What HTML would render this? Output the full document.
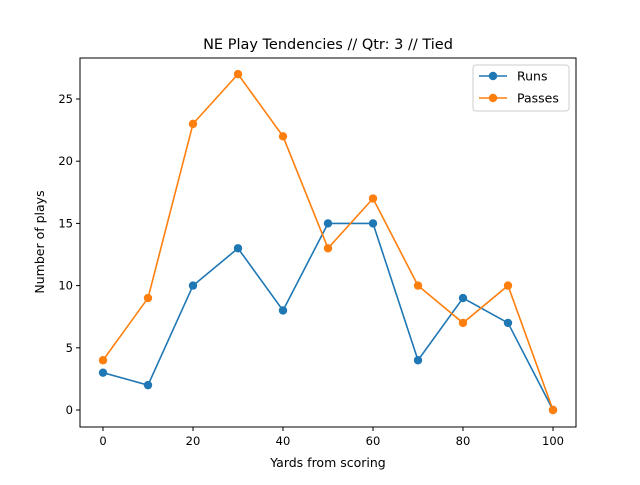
<!DOCTYPE html>
<html><head><meta charset="utf-8"><style>body{margin:0;background:#fff}svg{font-family:"DejaVu Sans","Liberation Sans",sans-serif}</style></head>
<body>
<svg id="c" width="640" height="480"></svg>
<script>
const categories=[0,10,20,30,40,50,60,70,80,90,100];
const runs=[3,2,10,13,8,15,15,4,9,7,0];
const passes=[4,9,23,27,22,13,17,10,7,10,0];
const xTicks=[0,20,40,60,80,100];
const yTicks=[0,5,10,15,20,25];
const NS="http://www.w3.org/2000/svg";
const svg=document.getElementById('c');
const L=80,R=576,T=58,B=427;
const xs=v=>103+v*4.5;
const ys=v=>410-v*12.44;
function mk(t,a,p){const e=document.createElementNS(NS,t);for(const k in a)e.setAttribute(k,a[k]);(p||svg).appendChild(e);return e;}
const title=mk('text',{x:328,y:49,'text-anchor':'middle','font-size':14.5});title.textContent='NE Play Tendencies // Qtr: 3 // Tied';


xTicks.forEach(v=>{const x=xs(v);mk('line',{x1:x,x2:x,y1:B,y2:B+4,stroke:'#000'});const t=mk('text',{x:x,y:B+18,'text-anchor':'middle','font-size':11.5});t.textContent=v;

});
yTicks.forEach(v=>{const y=ys(v);mk('line',{x1:L-4,x2:L,y1:y,y2:y,stroke:'#000'});const t=mk('text',{x:L-7,y:y+4,'text-anchor':'end','font-size':11.5});t.textContent=v;

});
const xl=mk('text',{x:328,y:467,'text-anchor':'middle','font-size':12.5});xl.textContent='Yards from scoring';


const yl=mk('text',{x:44,y:242,'text-anchor':'middle','font-size':12.5,transform:'rotate(-90 44 242)'});yl.textContent='Number of plays';


function series(data,col,name){const g=mk('g',{});


mk('polyline',{points:data.map((v,i)=>xs(categories[i])+','+ys(v)).join(' '),fill:'none',stroke:col,'stroke-width':1.6},g);
data.forEach((v,i)=>{const c=mk('circle',{cx:xs(categories[i]),cy:ys(v),r:4.2,fill:col},g);

});}
series(runs,'#1f77b4','runs-series');
series(passes,'#ff7f0e','passes-series');
const f=mk('rect',{x:L,y:T,width:R-L,height:B-T,fill:'none',stroke:'#000','stroke-width':1});


const lg=mk('g',{});


mk('rect',{x:473,y:65,width:96,height:46,rx:3,fill:'#fff',stroke:'#ccc'},lg);
[['Runs','#1f77b4',76],['Passes','#ff7f0e',98]].forEach(([n,c,y])=>{mk('line',{x1:479,x2:507,y1:y,y2:y,stroke:c,'stroke-width':1.6},lg);mk('circle',{cx:493,cy:y,r:4.2,fill:c},lg);const t=mk('text',{x:517,y:y+4.5,'font-size':12.5},lg);t.textContent=n;

});
</script>
</body></html>
